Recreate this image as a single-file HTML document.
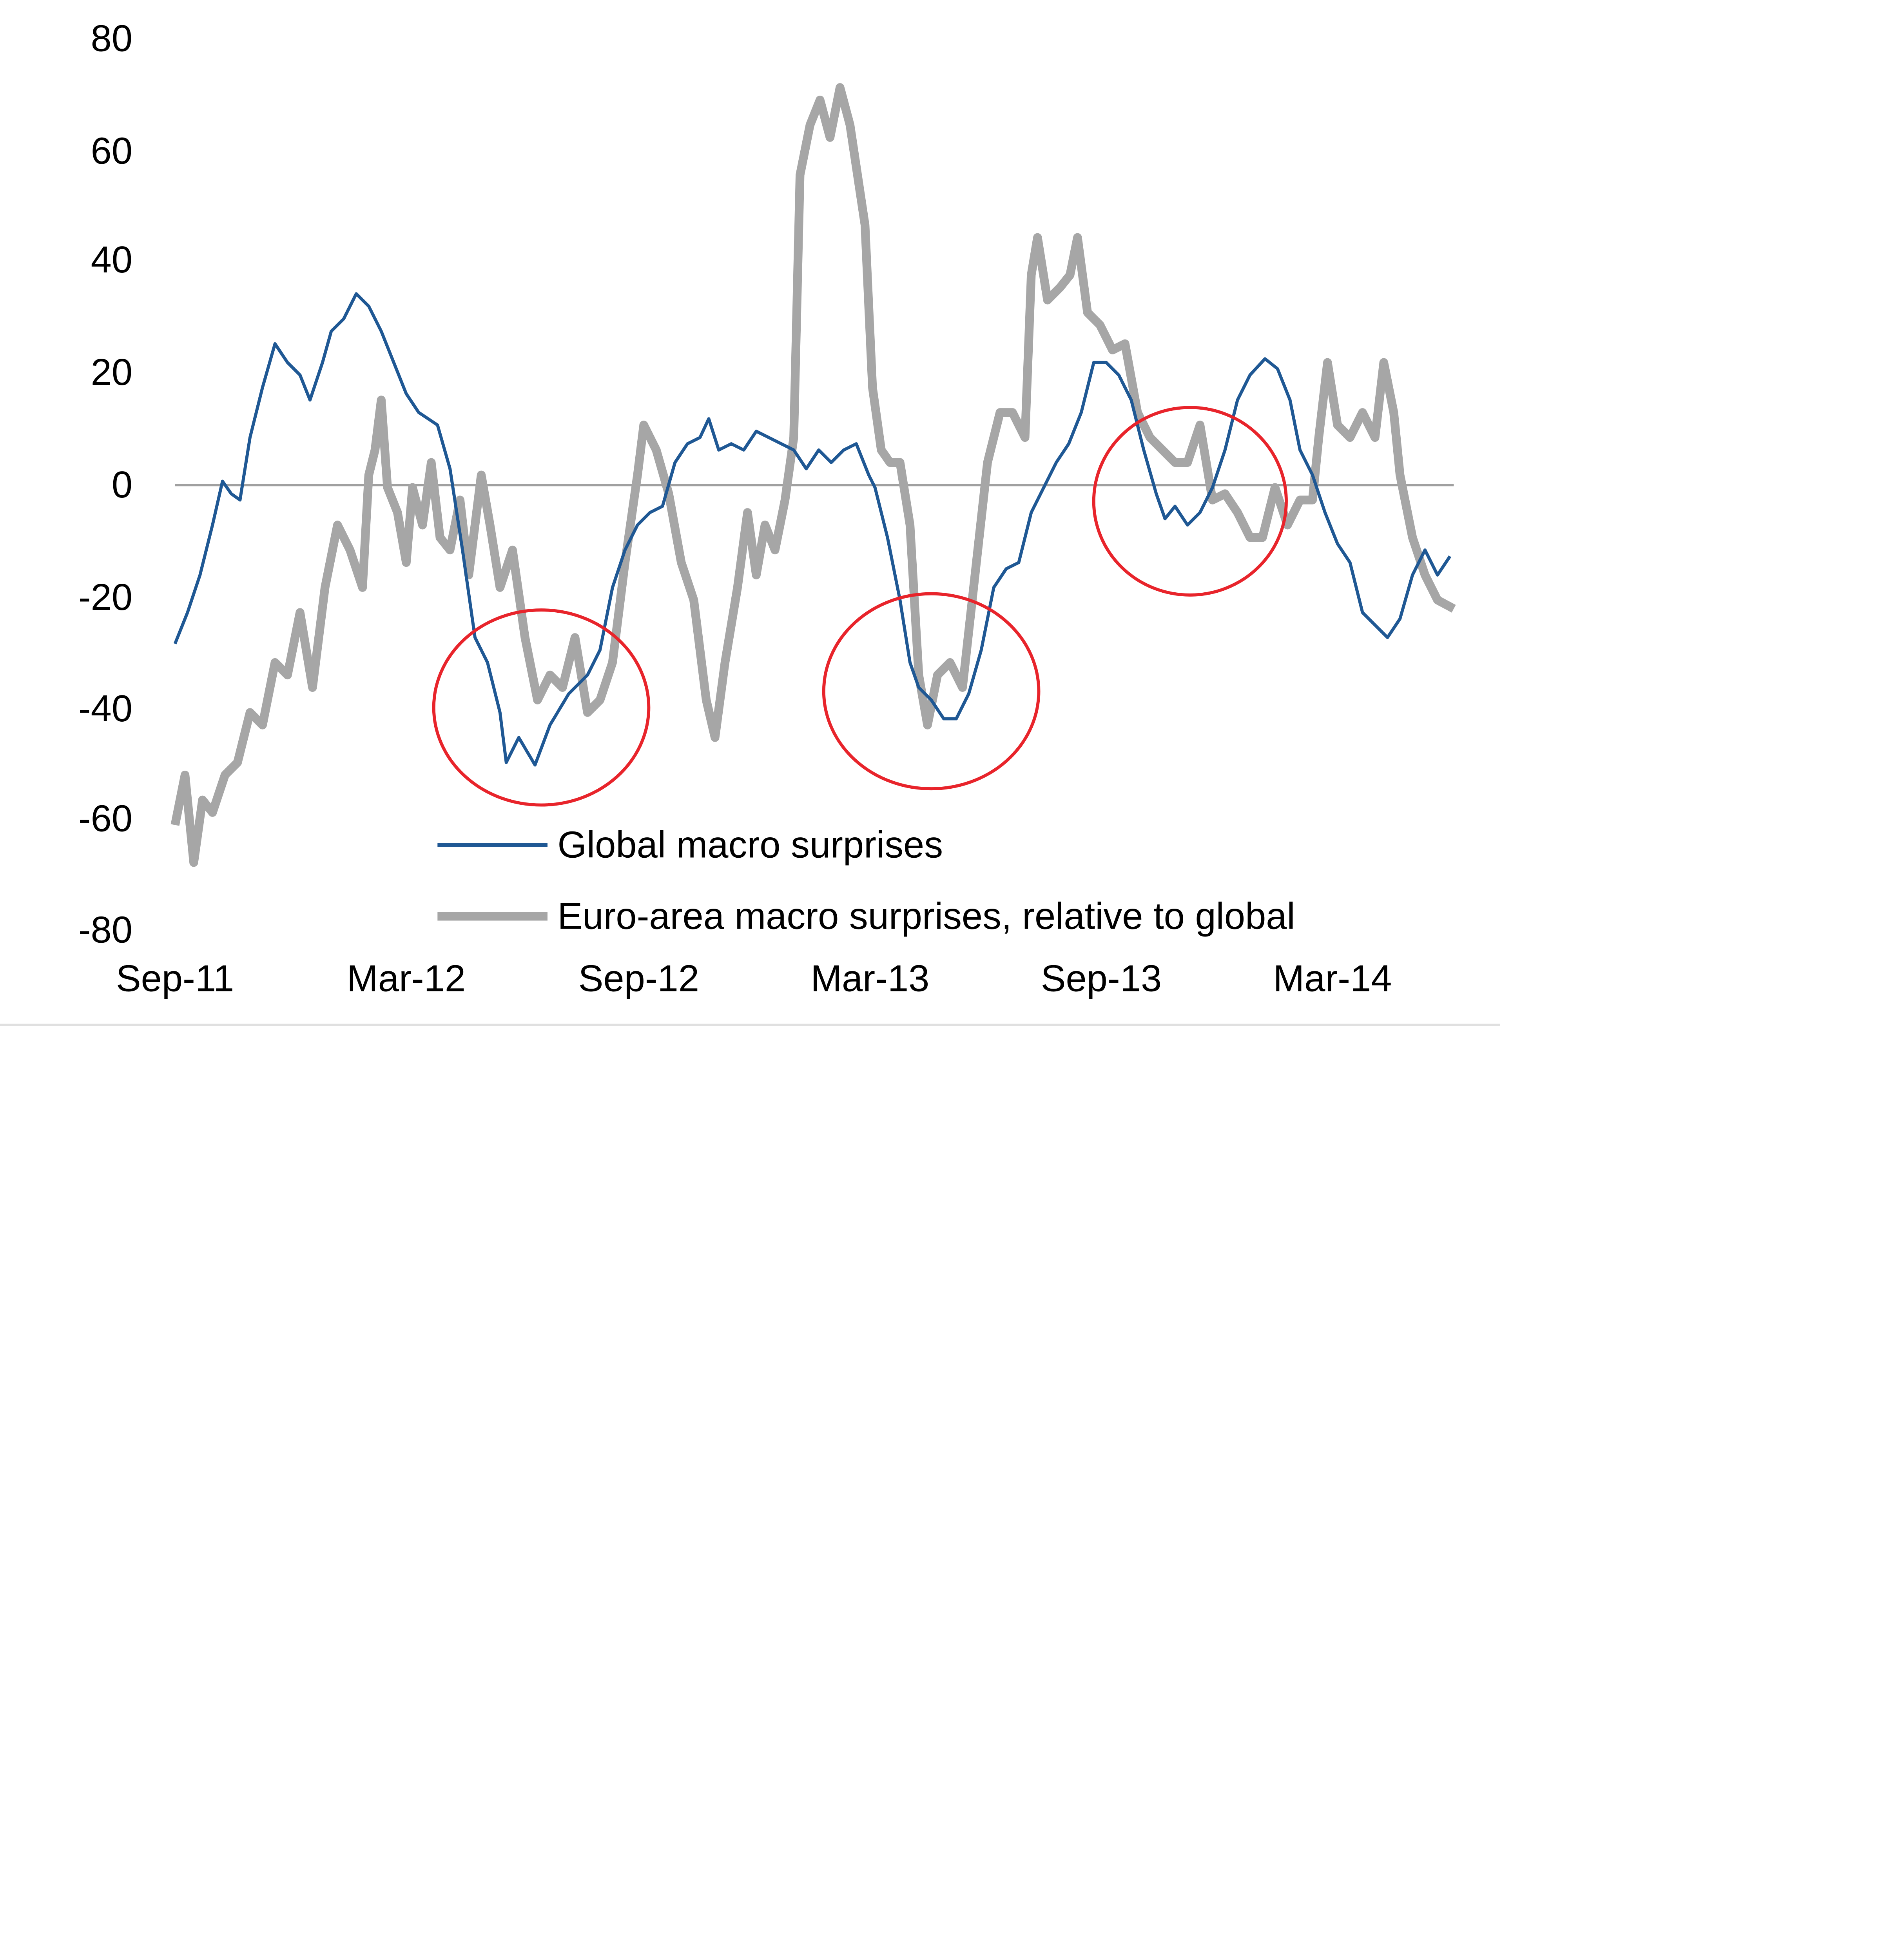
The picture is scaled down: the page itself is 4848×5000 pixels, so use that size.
<!DOCTYPE html>
<html><head><meta charset="utf-8"><style>html,body{margin:0;padding:0;background:#fff;}svg{display:block}</style></head>
<body>
<svg width="4848" height="5000" viewBox="0 0 1520 1568" preserveAspectRatio="none" xmlns="http://www.w3.org/2000/svg" font-family="Liberation Sans, sans-serif">
<rect width="1520" height="1568" fill="#fff"/>
<line x1="140" y1="388" x2="1163" y2="388" stroke="#a0a0a0" stroke-width="2"/>
<g font-size="30" fill="#000" text-anchor="end">
<text x="106" y="41">80</text><text x="106" y="131">60</text><text x="106" y="218">40</text>
<text x="106" y="308">20</text><text x="106" y="398">0</text><text x="106" y="488">-20</text>
<text x="106" y="577">-40</text><text x="106" y="665">-60</text><text x="106" y="754">-80</text>
</g>
<g font-size="30" fill="#000" text-anchor="middle">
<text x="140" y="793">Sep-11</text><text x="325" y="793">Mar-12</text><text x="511" y="793">Sep-12</text>
<text x="696" y="793">Mar-13</text><text x="881" y="793">Sep-13</text><text x="1066" y="793">Mar-14</text>
</g>
<polyline fill="none" stroke="#a6a6a6" stroke-width="7" stroke-linejoin="round" points="140,660 148,620 155,690 162,640 170,650 180,620 190,610 200,570 210,580 220,530 230,540 240,490 250,550 260,470 270,420 280,440 290,470 295,380 300,360 305,320 310,390 318,410 325,450 330,390 338,420 345,370 352,430 360,440 368,400 375,460 385,380 392,420 400,470 410,440 420,510 430,560 440,540 450,550 460,510 470,570 480,560 490,530 500,450 510,380 515,340 525,360 535,395 545,450 555,480 565,560 572,590 580,530 590,470 598,410 605,460 612,420 620,440 628,400 635,350 640,140 648,100 656,80 664,110 672,70 680,100 686,140 692,180 698,310 705,360 712,370 720,370 728,420 735,540 742,580 750,540 760,530 770,550 780,460 790,370 800,330 810,330 820,350 825,220 830,190 838,240 848,230 856,220 862,190 870,250 880,260 890,280 900,275 910,330 920,350 930,360 940,370 950,370 960,340 970,400 980,395 990,410 1000,430 1010,430 1020,390 1030,420 1040,400 1050,400 1055,350 1062,290 1070,340 1080,350 1090,330 1100,350 1107,290 1115,330 1120,380 1130,430 1140,460 1150,480 1163,487"/>
<polyline fill="none" stroke="#1f5894" stroke-width="2.5" stroke-linejoin="round" points="140,515 150,490 160,460 170,420 178,385 185,395 192,400 200,350 210,310 220,275 230,290 240,300 248,320 258,290 265,265 275,255 285,235 295,245 305,265 315,290 325,315 335,330 350,340 360,375 370,440 380,510 390,530 400,570 405,610 415,590 428,612 440,580 455,555 470,540 480,520 490,470 500,440 510,420 520,410 530,405 540,370 550,355 560,350 567,335 575,360 585,355 595,360 605,345 615,350 625,355 635,360 645,375 655,360 665,370 675,360 685,355 695,380 700,390 710,430 720,480 728,530 735,550 745,560 755,575 765,575 775,555 785,520 795,470 805,455 815,450 825,410 835,390 845,370 855,355 865,330 875,290 885,290 895,300 905,320 915,360 925,395 932,415 940,405 950,420 960,410 970,390 980,360 990,320 1000,300 1012,287 1022,295 1032,320 1040,360 1050,380 1060,410 1070,435 1080,450 1090,490 1100,500 1110,510 1120,495 1130,460 1140,440 1150,460 1160,445"/>
<g fill="none" stroke="#e8242b" stroke-width="2.5">
<ellipse cx="433" cy="566" rx="86" ry="78"/>
<ellipse cx="745" cy="553" rx="86" ry="78"/>
<ellipse cx="952" cy="401" rx="77" ry="75"/>
</g>
<line x1="350" y1="676" x2="438" y2="676" stroke="#1f5894" stroke-width="3"/>
<text x="446" y="686" font-size="30">Global macro surprises</text>
<line x1="350" y1="733" x2="438" y2="733" stroke="#a6a6a6" stroke-width="7"/>
<text x="446" y="743" font-size="30">Euro-area macro surprises, relative to global</text>
<line x1="0" y1="820" x2="1200" y2="820" stroke="#e0e0e0" stroke-width="2"/>
</svg>
</body></html>
